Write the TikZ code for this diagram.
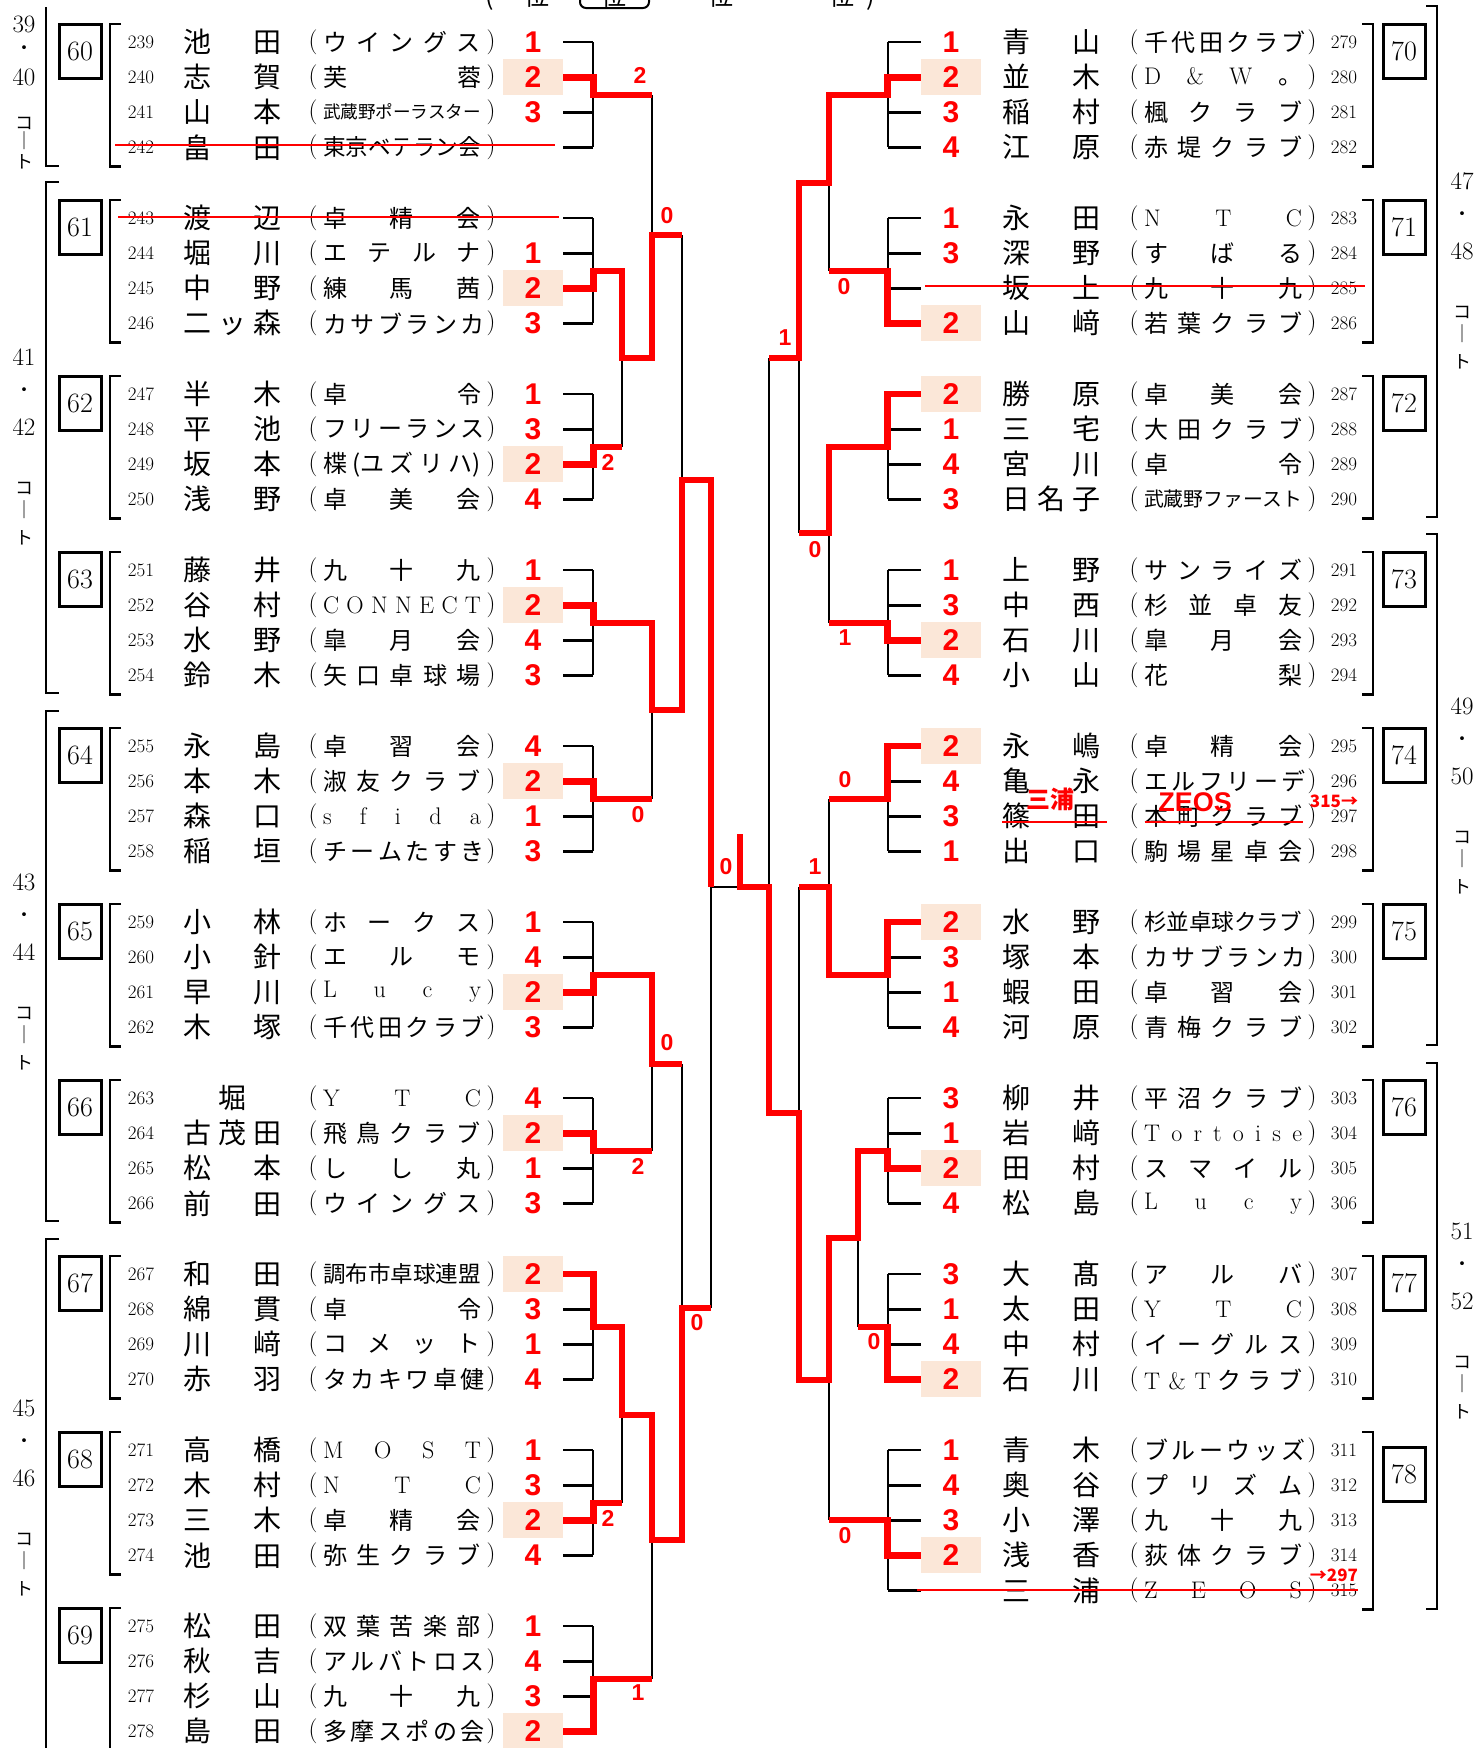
\documentclass[tikz,border=0pt]{standalone}
\usepackage{fontspec}
\usepackage{graphicx}
\usepackage{xcolor}
\usepackage{tikz}
\newfontfamily\jp{Noto Sans CJK JP}
\newfontfamily\arl{Liberation Sans}
\definecolor{hilite}{RGB}{251,231,216}
\definecolor{winred}{RGB}{255,0,0}
\newcommand\clubn[1]{\resizebox{158pt}{!}{#1}}

\tikzset{
  every node/.style={inner sep=0pt},
  numtxt/.style={font=\fontsize{19}{19}\selectfont},
  nmtxt/.style={font=\jp\fontsize{28}{28}\selectfont},
  cltxt/.style={font=\jp\fontsize{24}{24}\selectfont},
  prn/.style={font=\fontsize{25}{25}\selectfont},
  score/.style={font=\arl\bfseries\fontsize{30}{30}\selectfont, text=winred, minimum width=60pt, minimum height=36pt},
  sc/.style={}, sc1/.style={}, sc2/.style={fill=hilite}, sc3/.style={}, sc4/.style={},
  res/.style={font=\arl\bfseries\fontsize{23}{23}\selectfont, text=winred},
  note/.style={font=\jp\bfseries\fontsize{24}{24}\selectfont, text=winred},
  smallnote/.style={font=\jp\bfseries\fontsize{17}{17}\selectfont, text=winred},
  grpbox/.style={draw, line width=3pt, minimum width=42pt, minimum height=54pt, font=\fontsize{28}{28}\selectfont},
  ctnum/.style={font=\fontsize{25}{25}\selectfont},
  ctkana/.style={font=\jp\fontsize{18}{18}\selectfont},
  hdtxt/.style={font=\jp\fontsize{25}{25}\selectfont},
  blk/.style={draw=black, line width=2.8pt},
  win/.style={draw=winred, line width=6.8pt},
  strike/.style={draw=winred, line width=2.5pt},
}

% court label: x, y, first, second, squeeze
\newcommand\courtlabel[5]{%
  \node[ctnum] (ct#3) at (#1,#2) {#3};
  \node[ctkana] (ct#3d) at (#1,#2+35*#5) {・};
  \node[ctnum] (ct#4) at (#1,#2+70*#5) {#4};
  \node[ctkana] (ct#3k) at (#1,#2+131*#5) {コ};
  \node[ctkana] (ct#3b) at (#1,#2+153*#5) {｜};
  \node[ctkana] (ct#3t) at (#1,#2+181*#5) {ト};
}

\begin{document}
\begin{tikzpicture}[x=1pt,y=-1pt]
\useasboundingbox (0,0) rectangle (1475,1748);
\clip (0,0) rectangle (1475,1748);

% header, cut off at the top
\foreach \hx/\hc in {490/{(},537/位,614/位,721/位,842/位,871/{)}}
  \node[hdtxt, anchor=base] (h\hx) at (\hx,5) {\hc};
\draw[line width=2pt, rounded corners=6pt] (580,-30) rectangle (649,8);

% courts
\draw[blk] (46,7) -- (46,166) -- (59,166);
\draw[blk] (59,182) -- (46,182) -- (46,693) -- (59,693);
\draw[blk] (59,711) -- (46,711) -- (46,1221) -- (59,1221);
\draw[blk] (59,1239) -- (46,1239) -- (46,1760);
\draw[blk] (1426,6) -- (1437,6) -- (1437,517) -- (1426,517);
\draw[blk] (1426,534) -- (1437,534) -- (1437,1045) -- (1426,1045);
\draw[blk] (1426,1063) -- (1437,1063) -- (1437,1609) -- (1426,1609);
\courtlabel{24}{24}{39}{40}{0.76}
\courtlabel{24}{357}{41}{42}{1}
\courtlabel{24}{882}{43}{44}{1}
\courtlabel{24}{1408}{45}{46}{1}
\courtlabel{1462}{181}{47}{48}{1}
\courtlabel{1462}{706}{49}{50}{1}
\courtlabel{1462}{1231}{51}{52}{1}

% groups, left
\foreach \g/\lbl in {0/60,1/61,2/62,3/63,4/64,5/65,6/66,7/67,8/68,9/69}{
  \pgfmathsetmacro\ya{42+176*\g}
  \pgfmathsetmacro\yb{\ya+105.3}
  \draw[blk] (121,\ya-18) -- (110,\ya-18) -- (110,\yb+19) -- (121,\yb+19);
  \draw[blk] (593,\ya) -- (593,\yb);
  \node[grpbox] (b\lbl) at (80,\ya+9) {\lbl};
}
% groups, right
\foreach \g/\lbl/\nr/\off in {0/70/3/9,1/71/3/9,2/72/3/9,3/73/3/9,4/74/3/9,5/75/3/9,6/76/3/9,7/77/3/9,8/78/4/24}{
  \pgfmathsetmacro\ya{42+176*\g}
  \pgfmathsetmacro\yb{\ya+35.1*\nr}
  \draw[blk] (1362,\ya-18) -- (1373,\ya-18) -- (1373,\yb+19) -- (1362,\yb+19);
  \draw[blk] (888,\ya) -- (888,\yb);
  \node[grpbox] (b\lbl) at (1404,\ya+\off) {\lbl};
}

% players, left
\foreach \g/\r/\no/\nm/\cl/\sc in {
  0/0/239/{池 田}/{ウ イ ン グ ス}/1,
  0/1/240/{志 賀}/{芙 蓉}/2,
  0/2/241/{山 本}/{\clubn{武蔵野ポーラスター}}/3,
  0/3/242/{畠 田}/{\clubn{東京ベテラン会}}/{},
  1/0/243/{渡 辺}/{卓 精 会}/{},
  1/1/244/{堀 川}/{エ テ ル ナ}/1,
  1/2/245/{中 野}/{練 馬 茜}/2,
  1/3/246/{二 ッ 森}/{カ サ ブ ラ ン カ}/3,
  2/0/247/{半 木}/{卓 令}/1,
  2/1/248/{平 池}/{フ リ ー ラ ン ス}/3,
  2/2/249/{坂 本}/{楪 (ユ ズ リ ハ)}/2,
  2/3/250/{浅 野}/{卓 美 会}/4,
  3/0/251/{藤 井}/{九 十 九}/1,
  3/1/252/{谷 村}/{\rmfamily C O N N E C T}/2,
  3/2/253/{水 野}/{皐 月 会}/4,
  3/3/254/{鈴 木}/{矢 口 卓 球 場}/3,
  4/0/255/{永 島}/{卓 習 会}/4,
  4/1/256/{本 木}/{淑 友 ク ラ ブ}/2,
  4/2/257/{森 口}/{\rmfamily s f i d a}/1,
  4/3/258/{稲 垣}/{チ ー ム た す き}/3,
  5/0/259/{小 林}/{ホ ー ク ス}/1,
  5/1/260/{小 針}/{エ ル モ}/4,
  5/2/261/{早 川}/{\rmfamily L u c y}/2,
  5/3/262/{木 塚}/{千 代 田 ク ラ ブ}/3,
  6/0/263/{\hfill 堀\hfill}/{\rmfamily Y T C}/4,
  6/1/264/{古 茂 田}/{飛 鳥 ク ラ ブ}/2,
  6/2/265/{松 本}/{し し 丸}/1,
  6/3/266/{前 田}/{ウ イ ン グ ス}/3,
  7/0/267/{和 田}/{\clubn{調布市卓球連盟}}/2,
  7/1/268/{綿 貫}/{卓 令}/3,
  7/2/269/{川 﨑}/{コ メ ッ ト}/1,
  7/3/270/{赤 羽}/{タ カ キ ワ 卓 健}/4,
  8/0/271/{高 橋}/{\rmfamily M O S T}/1,
  8/1/272/{木 村}/{\rmfamily N T C}/3,
  8/2/273/{三 木}/{卓 精 会}/2,
  8/3/274/{池 田}/{弥 生 ク ラ ブ}/4,
  9/0/275/{松 田}/{双 葉 苦 楽 部}/1,
  9/1/276/{秋 吉}/{ア ル バ ト ロ ス}/4,
  9/2/277/{杉 山}/{九 十 九}/3,
  9/3/278/{島 田}/{多 摩 ス ポ の 会}/2}{
  \pgfmathsetmacro\yy{42+176*\g+35.1*\r}
  \node[numtxt] (n\no) at (141,\yy) {\no};
  \node[nmtxt] (m\no) at (232,\yy) {\makebox[98pt][s]{\nm}};
  \node[prn] (p\no) at (313,\yy) {(};
  \node[cltxt] (c\no) at (402,\yy) {\makebox[158pt][s]{\cl}};
  \node[prn] (q\no) at (491,\yy) {)};
  \node[score,sc\sc] (s\no) at (533,\yy) {\sc};
  \draw[blk] (s\no.east) -- (593,\yy);
}

% players, right
\foreach \g/\r/\no/\nm/\cl/\sc in {
  0/0/279/{青 山}/{千 代 田 ク ラ ブ}/1,
  0/1/280/{並 木}/{\rmfamily D \& W {\jp 。}}/2,
  0/2/281/{稲 村}/{楓 ク ラ ブ}/3,
  0/3/282/{江 原}/{赤 堤 ク ラ ブ}/4,
  1/0/283/{永 田}/{\rmfamily N T C}/1,
  1/1/284/{深 野}/{す ば る}/3,
  1/2/285/{坂 上}/{九 十 九}/{},
  1/3/286/{山 﨑}/{若 葉 ク ラ ブ}/2,
  2/0/287/{勝 原}/{卓 美 会}/2,
  2/1/288/{三 宅}/{大 田 ク ラ ブ}/1,
  2/2/289/{宮 川}/{卓 令}/4,
  2/3/290/{日 名 子}/{\clubn{武蔵野ファースト}}/3,
  3/0/291/{上 野}/{サ ン ラ イ ズ}/1,
  3/1/292/{中 西}/{杉 並 卓 友}/3,
  3/2/293/{石 川}/{皐 月 会}/2,
  3/3/294/{小 山}/{花 梨}/4,
  4/0/295/{永 嶋}/{卓 精 会}/2,
  4/1/296/{亀 永}/{エ ル フ リ ー デ}/4,
  4/2/297/{篠 田}/{本 町 ク ラ ブ}/3,
  4/3/298/{出 口}/{駒 場 星 卓 会}/1,
  5/0/299/{水 野}/{\clubn{杉並卓球クラブ}}/2,
  5/1/300/{塚 本}/{カ サ ブ ラ ン カ}/3,
  5/2/301/{蝦 田}/{卓 習 会}/1,
  5/3/302/{河 原}/{青 梅 ク ラ ブ}/4,
  6/0/303/{柳 井}/{平 沼 ク ラ ブ}/3,
  6/1/304/{岩 﨑}/{\rmfamily T o r t o i s e}/1,
  6/2/305/{田 村}/{ス マ イ ル}/2,
  6/3/306/{松 島}/{\rmfamily L u c y}/4,
  7/0/307/{大 髙}/{ア ル バ}/3,
  7/1/308/{太 田}/{\rmfamily Y T C}/1,
  7/2/309/{中 村}/{イ ー グ ル ス}/4,
  7/3/310/{石 川}/{{\rmfamily T \& T} ク ラ ブ}/2,
  8/0/311/{青 木}/{ブ ル ー ウ ッ ズ}/1,
  8/1/312/{奥 谷}/{プ リ ズ ム}/4,
  8/2/313/{小 澤}/{九 十 九}/3,
  8/3/314/{浅 香}/{荻 体 ク ラ ブ}/2,
  8/4/315/{三 浦}/{\rmfamily Z E O S}/{}}{
  \pgfmathsetmacro\yy{42+176*\g+35.1*\r}
  \node[score,sc\sc] (s\no) at (951,\yy) {\sc};
  \node[nmtxt] (m\no) at (1051,\yy) {\makebox[98pt][s]{\nm}};
  \node[prn] (p\no) at (1134,\yy) {(};
  \node[cltxt] (c\no) at (1223,\yy) {\makebox[158pt][s]{\cl}};
  \node[prn] (q\no) at (1312,\yy) {)};
  \node[numtxt] (n\no) at (1344,\yy) {\no};
  \draw[blk] (s\no.west) -- (888,\yy);
}

% matches, left
\draw[blk] (622,271) -- (622,447);
\draw[blk] (652,95) -- (652,358);
\draw[blk] (652,623) -- (652,799);
\draw[blk] (682,235) -- (682,710);
\draw[blk] (652,975) -- (652,1151);
\draw[blk] (622,1327) -- (622,1503);
\draw[blk] (652,1415) -- (652,1679);
\draw[blk] (682,1064) -- (682,1540);
\draw[blk] (711,480) -- (711,1308);
\draw[blk] (711,887) -- (740,887);
% matches, right
\draw[blk] (829,95) -- (829,271);
\draw[blk] (829,447) -- (829,623);
\draw[blk] (799,183) -- (799,533);
\draw[blk] (829,799) -- (829,975);
\draw[blk] (858,1151) -- (858,1327);
\draw[blk] (829,1238) -- (829,1520);
\draw[blk] (799,887) -- (799,1380);
\draw[blk] (769,358) -- (769,1113);

% winners' way
\draw[win] (s240.east) -- ++(30,0) |- (652,95);
\draw[win] (s245.east) -- ++(30,0) |- (622,271) |- (652,358) |- (682,235);
\draw[win] (s249.east) -- ++(30,0) |- (622,447);
\draw[win] (s252.east) -- ++(30,0) |- (652,623) |- (682,710) |- (711,480) -- (711,887);
\draw[win] (s256.east) -- ++(30,0) |- (652,799);
\draw[win] (s261.east) -- ++(30,0) |- (652,975) |- (682,1064);
\draw[win] (s264.east) -- ++(30,0) |- (652,1151);
\draw[win] (s267.east) -- ++(30,0) |- (622,1327) |- (652,1415) |- (682,1540) |- (711,1308);
\draw[win] (s273.east) -- ++(30,0) |- (622,1503);
\draw[win] (s278.east) -- ++(30,0) |- (652,1679);
\draw[win] (s280.west) -- ++(-33,0) |- (829,95) |- (799,183) |- (769,358);
\draw[win] (s286.west) -- ++(-33,0) |- (829,271);
\draw[win] (s287.west) -- ++(-33,0) |- (829,447) |- (799,533);
\draw[win] (s293.west) -- ++(-33,0) |- (829,623);
\draw[win] (s295.west) -- ++(-33,0) |- (829,799);
\draw[win] (s299.west) -- ++(-33,0) |- (829,975) |- (799,887);
\draw[win] (s305.west) -- ++(-33,0) |- (858,1151) |- (829,1238) |- (799,1380) |- (769,1113) |- (740,887) -- (740,834);
\draw[win] (s310.west) -- ++(-33,0) |- (858,1327);
\draw[win] (s314.west) -- ++(-33,0) |- (829,1520);

% game scores
\foreach \lx/\ly/\lv [count=\i] in {640/75/2,667/216/0,608/462/2,638/815/0,726/867/0,667/1043/0,638/1166/2,697/1323/0,608/1518/2,638/1693/1,
    785/338/1,844/287/0,815/550/0,845/638/1,845/780/0,815/867/1,874/1342/0,845/1536/0}
  \node[res] (lab\i) at (\lx,\ly) {\lv};

% withdrawn and swapped
\draw[strike] (115,145) -- (555,145);
\draw[strike] (118,217) -- (559,217);
\draw[strike] (925,286) -- (1365,286);
\draw[strike] (1002,822) -- (1107,822);
\draw[strike] (1145,822) -- (1303,822);
\draw[strike] (917,1590) -- (1358,1590);
\node[note] (miura) at (1050,799) {三浦};
\node[note, font=\arl\bfseries\fontsize{27}{27}\selectfont] (zeos) at (1195,802) {ZEOS};
\node[smallnote] (to315) at (1334,801) {315→};
\node[smallnote] (to297) at (1334,1575) {→297};
\end{tikzpicture}
\end{document}
